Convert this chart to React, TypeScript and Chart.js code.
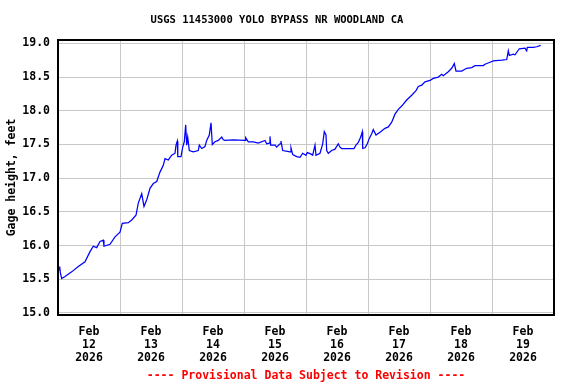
import React, { useEffect, useRef } from "react";
import { Chart, registerables } from "chart.js";

Chart.register(...registerables);

// Hours since Feb 12 2026 00:00 (PST)
const hours = [
  0.4, 0.66, 0.9, 1.43, 2.71, 5.3, 7.86, 10.45, 12.39, 13.66, 14.98, 16.26, 17.54, 17.8, 20.13, 22.06,
  24.0, 24.89, 27.21, 28.53, 30.19, 31.08, 32.4, 33.29, 34.34, 35.61, 36.89, 38.21, 39.48, 40.76, 41.42,
  42.7, 44.01, 45.29, 45.68, 46.18, 46.37, 47.61, 48.27, 48.89, 49.43, 49.82, 50.21, 50.83, 52.37, 54.31,
  54.7, 55.63, 56.9, 57.56, 58.57, 59.23, 59.73, 60.77, 62.05, 63.37, 64.0, 64.65, 67.86, 72.39, 72.66,
  73.66, 75.6, 77.54, 80.13, 80.79, 81.79, 82.06, 82.34, 84.0, 84.66, 85.94, 86.32, 86.98, 89.81, 90.19,
  90.85, 92.4, 93.68, 94.72, 96.0, 96.5, 97.82, 98.59, 99.48, 99.87, 101.42, 102.46, 103.08, 103.74,
  104.01, 104.63, 105.95, 107.23, 108.5, 109.16, 109.82, 114.58, 115.35, 116.25, 117.17, 117.79, 117.95,
  118.84, 119.73, 120.5, 121.43, 122.05, 123.1, 124.65, 126.58, 127.86, 129.18, 130.45, 131.73, 133.05,
  134.98, 136.92, 138.58, 139.47, 140.79, 142.06, 144.0, 145.28, 147.21, 148.53, 149.15, 151.08, 152.4,
  153.41, 154.06, 156.27, 158.2, 160.14, 161.42, 164.63, 165.29, 167.23, 168.5, 171.75, 173.69, 174.31,
  174.7, 176.25, 176.9, 178.57, 180.77, 181.43, 181.67, 183.99, 185.3, 186.85,
];

const gageFt = [
  15.64, 15.69, 15.6, 15.51, 15.54, 15.61, 15.69, 15.76, 15.91, 15.99, 15.97, 16.06, 16.08, 15.99, 16.02, 16.13,
  16.2, 16.33, 16.34, 16.38, 16.45, 16.63, 16.77, 16.58, 16.68, 16.85, 16.92, 16.95, 17.09, 17.19, 17.29,
  17.27, 17.34, 17.37, 17.49, 17.55, 17.32, 17.32, 17.46, 17.54, 17.79, 17.49, 17.61, 17.41, 17.39, 17.41,
  17.49, 17.44, 17.47, 17.56, 17.64, 17.82, 17.5, 17.54, 17.56, 17.61, 17.57, 17.56, 17.57, 17.56, 17.6,
  17.54, 17.54, 17.52, 17.56, 17.51, 17.52, 17.62, 17.49, 17.49, 17.46, 17.51, 17.55, 17.41, 17.39, 17.45,
  17.35, 17.32, 17.31, 17.37, 17.34, 17.38, 17.36, 17.34, 17.49, 17.34, 17.37, 17.51, 17.69, 17.64,
  17.41, 17.37, 17.41, 17.43, 17.51, 17.46, 17.44, 17.44, 17.49, 17.53, 17.61, 17.69, 17.44,
  17.45, 17.51, 17.59, 17.66, 17.72, 17.64, 17.68, 17.74, 17.76, 17.83, 17.95, 18.02, 18.07,
  18.16, 18.23, 18.3, 18.36, 18.38, 18.43, 18.45, 18.48, 18.5, 18.54, 18.52, 18.58, 18.63,
  18.7, 18.59, 18.59, 18.63, 18.64, 18.67, 18.67, 18.69, 18.72, 18.74, 18.75, 18.76, 18.89,
  18.82, 18.84, 18.83, 18.92, 18.93, 18.89, 18.94, 18.94, 18.95, 18.97,
];

const yTickValues = [15.0, 15.5, 16.0, 16.5, 17.0, 17.5, 18.0, 18.5, 19.0];
const xTickHours = [0, 12, 24, 36, 48, 60, 72, 84, 96, 108, 120, 132, 144, 156, 168, 180, 192];
const dayLabels = ["12", "13", "14", "15", "16", "17", "18", "19"];
const monthLabel = "Feb";
const yearLabel = "2026";

const titleText = "USGS 11453000 YOLO BYPASS NR WOODLAND CA";
const footerText = "---- Provisional Data Subject to Revision ----";
const yTitleText = "Gage height, feet";

const FONT = "'DejaVu Sans Mono', 'Liberation Mono', monospace";

const framePlugin = {
  id: "frame",
  afterDatasetsDraw(chart: any) {
    const { ctx, chartArea } = chart;
    const { left, top, right, bottom } = chartArea;
    ctx.save();
    ctx.strokeStyle = "#000000";
    ctx.lineWidth = 2;
    ctx.strokeRect(left, top, right - left, bottom - top);
    ctx.restore();
  },
};

export default function App() {
  const canvasRef = useRef<HTMLCanvasElement | null>(null);

  useEffect(() => {
    const canvas = canvasRef.current;
    if (!canvas) return;
    const chart = new Chart(canvas, {
      type: "line",
      data: {
        datasets: [
          {
            data: hours.map((h, i) => ({ x: h, y: gageFt[i] })),
            borderColor: "#0000ff",
            borderWidth: 1.25,
            pointRadius: 0,
            fill: false,
            tension: 0,
          },
        ],
      },
      options: {
        animation: false,
        responsive: false,
        devicePixelRatio: 1,
        layout: { padding: { left: 0, right: 22, top: 0, bottom: 0 } },
        plugins: {
          legend: { display: false },
          tooltip: { enabled: false },
          title: {
            display: true,
            text: titleText,
            color: "#000000",
            font: { family: FONT, size: 10.5, weight: "bold", lineHeight: 1.2 },
            padding: { top: 13.7, bottom: 13.7 },
            fullSize: true,
          },
          subtitle: {
            display: true,
            position: "bottom",
            text: footerText,
            color: "#ff0000",
            font: { family: FONT, size: 11.5, weight: "bold", lineHeight: 1.2 },
            padding: { top: 0, bottom: 1 },
            fullSize: false,
          },
        },
        scales: {
          x: {
            type: "linear",
            min: 0,
            max: 192,
            afterBuildTicks: (scale: any) => {
              scale.ticks = xTickHours.map((v) => ({ value: v }));
            },
            afterFit: (scale: any) => {
              scale.height = 54.2;
            },
            grid: {
              color: (ctx: any) =>
                ctx.tick && ctx.tick.value % 24 === 0 ? "#c8c8c8" : "rgba(0,0,0,0)",
              lineWidth: 1,
              drawTicks: false,
            },
            border: { display: false },
            ticks: {
              autoSkip: false,
              maxRotation: 0,
              minRotation: 0,
              padding: 11,
              color: "#000000",
              font: { family: FONT, size: 11.5, weight: "bold", lineHeight: "13px" },
              callback: (value: any) => {
                const v = Number(value);
                if (v % 24 === 12) {
                  const idx = (v - 12) / 24;
                  return [monthLabel, dayLabels[idx], yearLabel];
                }
                return "";
              },
            },
          },
          y: {
            type: "linear",
            min: 14.97,
            max: 19.05,
            afterBuildTicks: (scale: any) => {
              scale.ticks = yTickValues.map((v) => ({ value: v }));
            },
            afterFit: (scale: any) => {
              scale.width = 58;
            },
            grid: { color: "#c8c8c8", lineWidth: 1, drawTicks: false },
            border: { display: false },
            ticks: {
              padding: 8,
              color: "#000000",
              font: { family: FONT, size: 11.5, weight: "bold" },
              callback: (value: any) => Number(value).toFixed(1),
            },
            title: {
              display: true,
              text: yTitleText,
              color: "#000000",
              font: { family: FONT, size: 11.5, weight: "bold", lineHeight: 1.2 },
              padding: { top: 5, bottom: 4 },
            },
          },
        },
      },
      plugins: [framePlugin],
    } as any);
    return () => {
      chart.destroy();
    };
  }, []);

  return (
    <div style={{ position: "fixed", left: 0, top: 0, width: 576, height: 384, background: "#ffffff" }}>
      <canvas ref={canvasRef} width={576} height={384} style={{ width: 576, height: 384, display: "block" }} />
    </div>
  );
}
